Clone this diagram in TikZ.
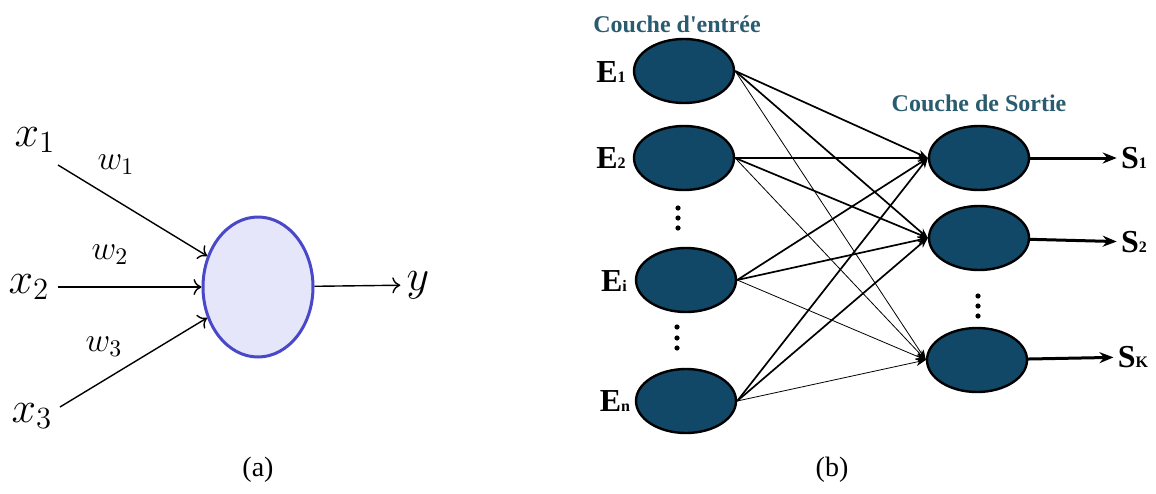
\RequirePackage{fix-cm}
\documentclass[tikz,border=0pt]{standalone}
\usepackage{amsmath}
\usepackage{fontspec}
\setmainfont{Liberation Serif}
\usepackage{xcolor}
\usepackage{tikz}
\usetikzlibrary{arrows.meta, shapes.geometric}

\definecolor{neurone}{RGB}{17,72,103}
\definecolor{couche}{RGB}{42,92,112}
\definecolor{soma}{RGB}{230,230,250}
\definecolor{somabord}{RGB}{72,72,200}

\newcommand{\neur}[2]{\textbf{#1}{\fontsize{8}{9}\selectfont\textbf{#2}}}

\tikzset{
	entree/.style={ellipse, draw=black, line width=1.2pt, fill=neurone, minimum width=50pt, minimum height=32pt, inner sep=0pt},
	lien/.style={-{Stealth[length=5pt,width=4pt]}, line width=0.85pt},
	lienfin/.style={lien, line width=0.4pt},
	fleche/.style={-{To[length=4pt,width=8pt]}, line width=0.7pt},
	grand/.style={font=\fontsize{22}{24}\selectfont, inner sep=1pt},
	poids/.style={font=\fontsize{17}{19}\selectfont, inner sep=1pt},
	etiq/.style={font=\fontsize{16}{18}\selectfont, inner sep=2pt},
	titre/.style={font=\bfseries\fontsize{12}{14}\selectfont, text=couche, inner sep=1pt}
}

\begin{document}
\begin{tikzpicture}[x=0.5pt, y=-0.5pt]
			\useasboundingbox (0, 0) rectangle (1156, 493);
			% (a) single neuron:
			\node[ellipse, draw=somabord, line width=1.5pt, fill=soma, minimum width=55pt, minimum height=70pt](N) at (258, 287){};
			\node[grand](x1) at (35, 140){$x_1$};
			\node[grand](x2) at (29, 287){$x_2$};
			\node[grand](x3) at (32, 416){$x_3$};
			\node[poids](w1) at (116, 165){$w_1$};
			\node[poids](w2) at (110, 255){$w_2$};
			\node[poids](w3) at (104, 347){$w_3$};
			\node[grand](y) at (418, 285){$y$};
			\coordinate (a1) at (58, 165);
			\coordinate (a2) at (58, 287);
			\coordinate (a3) at (60, 407);
			\draw[fleche] (a1) -- (N);
			\draw[fleche] (a2) -- (N);
			\draw[fleche] (a3) -- (N);
			\draw[fleche, shorten >=2pt] (N) -- (y);
			\node[font=\fontsize{14}{16}\selectfont](ca) at (258, 470){(a)};

			% (b) two layers:
			\node[titre](t1) at (677, 24){Couche d\textquotesingle entrée};
			\node[titre](t2) at (979, 103){Couche de Sortie};
			\node[entree](e1) at (684, 71){};
			\node[entree](e2) at (684, 158){};
			\node[entree](ei) at (686, 280){};
			\node[entree](en) at (686, 401){};
			\node[entree](s1) at (979, 158){};
			\node[entree](s2) at (979, 238){};
			\node[entree](sk) at (977, 360){};
			\node[etiq](le1) at (611, 72){\neur{E}{1}};
			\node[etiq](le2) at (611, 158){\neur{E}{2}};
			\node[etiq](lei) at (614, 281){\neur{E}{i}};
			\node[etiq](len) at (615, 401){\neur{E}{n}};
			\node[etiq](o1) at (1134, 158){\neur{S}{1}};
			\node[etiq](o2) at (1134, 242){\neur{S}{2}};
			\node[etiq](ok) at (1133, 357){\neur{S}{K}};
			\foreach \y in {208, 218, 228} \fill (678, \y) circle (1.3pt);
			\foreach \y in {327, 338, 348} \fill (677, \y) circle (1.3pt);
			\foreach \y in {296, 306, 316} \fill (978, \y) circle (1.3pt);
			\foreach \e in {e1, e2, ei, en} {
				\draw[lien] (\e.east) -- (s1.west);
				\draw[lien] (\e.east) -- (s2.west);
				\draw[lienfin] (\e.east) -- (sk.west);
			}
			\draw[-{Stealth[length=7pt,width=5.5pt]}, line width=1.5pt] (s1) -- (o1);
			\draw[-{Stealth[length=7pt,width=5.5pt]}, line width=1.5pt] (s2) -- (o2);
			\draw[-{Stealth[length=7pt,width=5.5pt]}, line width=1.5pt] (sk) -- (ok);
			\node[font=\fontsize{14}{16}\selectfont](cb) at (832, 470){(b)};
		\end{tikzpicture}
\end{document}
